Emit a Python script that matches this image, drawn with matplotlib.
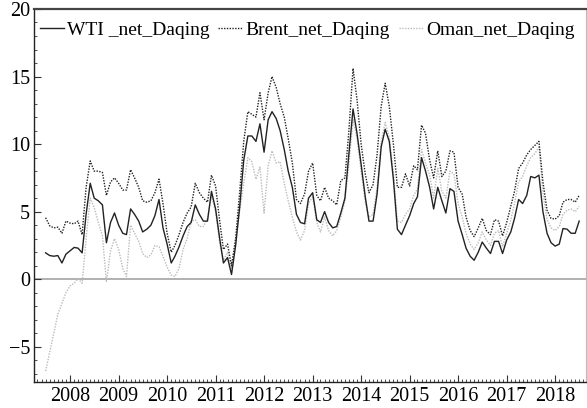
import matplotlib
matplotlib.use('Agg')
import matplotlib.pyplot as plt
import matplotlib.dates as mdates
import pandas as pd

plt.rcParams['font.family'] = ['Liberation Serif', 'DejaVu Serif']
plt.rcParams['axes.unicode_minus'] = True

# monthly, Jul 2007 - Jul 2018
months = pd.date_range('2007-07-01', periods=133, freq='MS')

wti = [1.95, 1.75, 1.7, 1.75, 1.2, 1.85,
       2.1, 2.35, 2.3, 1.95, 4.8, 7.1, 6.0, 5.8, 5.5, 2.7, 4.2, 4.9,
       4.0, 3.4, 3.3, 5.2, 4.8, 4.3, 3.5, 3.7, 4.0, 4.7, 5.9, 3.8,
       2.6, 1.2, 1.7, 2.4, 3.2, 3.9, 4.2, 5.5, 4.8, 4.3, 4.3, 6.5,
       5.2, 3.0, 1.2, 1.6, 0.35, 2.5, 5.3, 8.8, 10.6, 10.6, 10.2, 11.5,
       9.4, 11.8, 12.4, 11.9, 11.0, 9.6, 8.0, 6.8, 4.8, 4.2, 4.1, 6.0,
       6.4, 4.4, 4.2, 5.0, 4.2, 3.8, 3.9, 4.9, 6.0, 9.3, 12.6, 10.8,
       8.5, 6.1, 4.3, 4.3, 6.3, 9.8, 11.1, 10.2, 7.4, 3.7, 3.3, 4.0,
       4.7, 5.6, 6.1, 9.0, 8.0, 6.8, 5.2, 6.8, 5.8, 4.9, 6.7, 6.5,
       4.3, 3.3, 2.3, 1.7, 1.4, 2.0, 2.75, 2.3, 1.9, 2.8, 2.8, 1.9,
       2.9, 3.5, 4.5, 5.9, 5.6, 6.2, 7.6, 7.5, 7.7, 5.0, 3.4, 2.7,
       2.45, 2.6, 3.75, 3.7, 3.4, 3.4, 4.3]

brent = [4.55, 3.95, 3.8, 3.85, 3.4, 4.3,
         4.15, 4.1, 4.3, 3.3, 6.8, 8.75, 8.0, 8.0, 7.9, 6.2, 7.2, 7.5,
         7.1, 6.6, 6.6, 8.1, 7.5, 6.8, 5.8, 5.7, 5.8, 6.4, 7.4, 5.6,
         3.4, 2.0, 2.5, 3.3, 4.2, 4.9, 5.35, 7.1, 6.4, 6.0, 5.7, 7.7,
         6.9, 4.3, 2.2, 2.6, 1.0, 3.0, 6.4, 10.2, 12.4, 12.2, 12.0, 13.8,
         11.8, 13.8, 15.0, 14.2, 13.0, 12.0, 10.4, 8.6, 5.9, 5.6, 6.3, 8.0,
         8.6, 6.2, 5.8, 6.8, 6.0, 5.8, 5.5, 7.3, 7.5, 11.0, 15.6, 13.3,
         10.0, 7.8, 6.4, 7.0, 9.2, 12.8, 14.5, 12.8, 10.0, 6.8, 6.8, 7.8,
         6.9, 8.4, 8.1, 11.4, 10.8, 8.8, 7.5, 9.5, 7.6, 8.0, 9.5, 9.4,
         6.8, 6.3, 4.6, 3.6, 3.15, 3.8, 4.5, 3.6, 3.3, 4.4, 4.3, 3.2,
         4.2, 5.4, 6.5, 8.2, 8.6, 9.2, 9.6, 9.9, 10.2, 7.2, 5.1, 4.5,
         4.45, 4.7, 5.7, 5.9, 5.9, 5.7, 6.2]

oman = [-6.8, -5.4, -4.0, -2.6, -1.8, -1.0,
        -0.5, -0.3, 0.05, -0.3, 3.0, 6.0, 5.3, 4.2, 3.2, -0.2, 2.1, 3.0,
        2.2, 0.8, 0.2, 4.0, 3.4, 2.8, 1.9, 1.6, 1.8, 2.5, 2.4, 1.7,
        0.9, 0.3, 0.2, 0.8, 2.2, 3.0, 4.3, 4.4, 3.9, 3.9, 4.5, 6.2,
        5.0, 2.7, 1.4, 2.0, 0.8, 3.0, 5.0, 7.1, 9.0, 8.7, 7.4, 8.3,
        4.9, 8.4, 9.5, 8.6, 8.7, 7.1, 5.8, 4.6, 3.5, 2.9, 3.6, 5.6,
        6.1, 4.2, 3.5, 4.6, 3.6, 3.2, 3.6, 4.6, 5.8, 8.5, 11.8, 10.4,
        8.0, 5.7, 4.6, 4.8, 6.7, 10.2, 11.6, 10.5, 7.9, 4.3, 4.2, 4.8,
        5.2, 6.2, 6.7, 9.6, 8.6, 7.7, 6.0, 8.2, 6.5, 6.0, 8.0, 7.8,
        5.6, 4.6, 3.4, 2.6, 2.2, 2.7, 3.5, 2.9, 2.5, 3.4, 3.6, 2.4,
        3.4, 4.4, 5.6, 7.2, 7.6, 8.4, 9.0, 9.3, 9.8, 6.4, 4.4, 3.8,
        3.6, 3.9, 4.8, 5.1, 5.2, 5.0, 5.4]

fig = plt.figure(figsize=(5.87, 4.08), dpi=100)
ax = fig.add_axes([0.058, 0.064, 0.94, 0.914])

ax.axhline(0, color='#aaaaaa', lw=1.3, zorder=1)
ax.plot(months, wti, color='#222222', lw=1.0, label='WTI _net_Daqing', zorder=4)
ax.plot(months, brent, color='#222222', lw=1.0, ls=(0, (1, 1)),
        label='Brent_net_Daqing', zorder=3)
ax.plot(months, oman, color='#bbbbbb', lw=1.0, ls=(0, (1, 1)),
        label='Oman_net_Daqing', zorder=2)

ax.set_xlim(pd.Timestamp('2007-04-05'), pd.Timestamp('2018-08-20'))
ax.set_ylim(-7.6, 20)

ax.xaxis.set_major_locator(mdates.YearLocator())
ax.xaxis.set_major_formatter(mdates.DateFormatter('%Y'))
ax.xaxis.set_minor_locator(mdates.MonthLocator())
ax.set_yticks([-5, 0, 5, 10, 15, 20])
ax.set_yticks(range(-7, 20), minor=True)

ax.tick_params(which='both', direction='in', labelsize=14.5, color='#333333')
ax.tick_params(which='major', length=5, width=0.8)
ax.tick_params(which='minor', length=2.5, width=0.6)
ax.tick_params(axis='x', pad=4)
ax.tick_params(axis='y', pad=3)

for side in ['left', 'bottom']:
    ax.spines[side].set_color('#222222')
    ax.spines[side].set_linewidth(1.0)
ax.spines['top'].set_color('#444444')
ax.spines['top'].set_linewidth(1.6)
ax.spines['right'].set_color('#bbbbbb')
ax.spines['right'].set_linewidth(0.8)

ax.legend(loc='upper left', ncol=3, frameon=False, fontsize=14,
          handlelength=1.25, handletextpad=0.15, columnspacing=0.45,
          borderpad=0.2, borderaxespad=0.1, bbox_to_anchor=(0.0, 0.983))

fig.savefig('out.png', dpi=100)
